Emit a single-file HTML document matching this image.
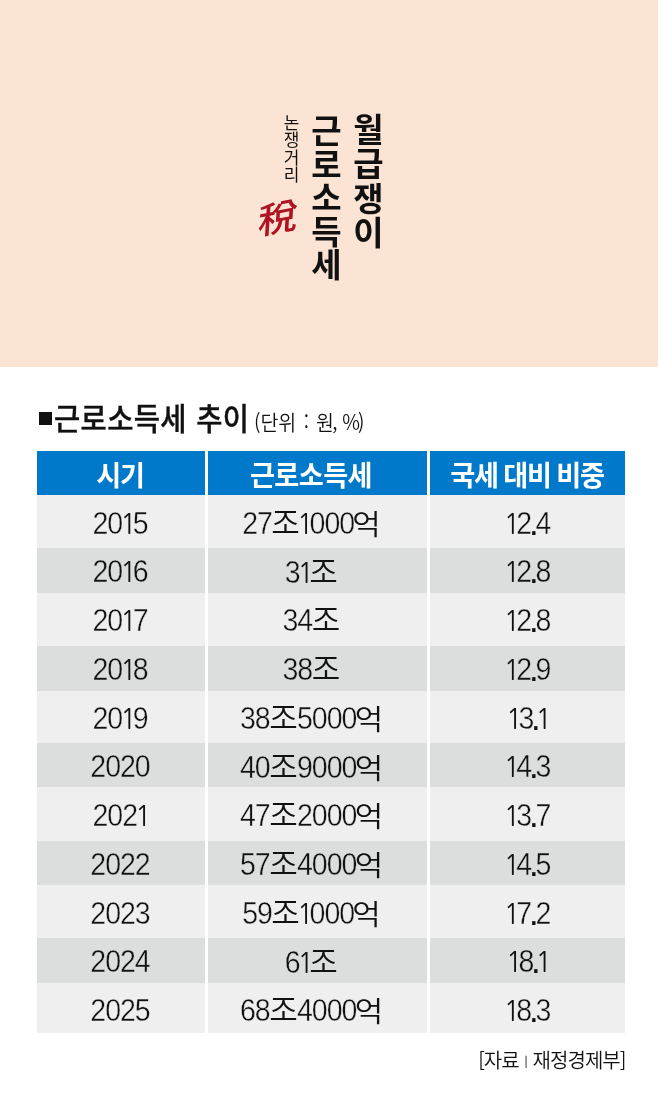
<!DOCTYPE html>
<html lang="ko">
<head>
<meta charset="utf-8">
<title>근로소득세 추이</title>
<style>
html,body{margin:0;padding:0;}
body{width:658px;height:1110px;position:relative;overflow:hidden;background:#fff;
  font-family:"Liberation Sans","Noto Sans CJK KR",sans-serif;color:#111;}
.abs{position:absolute;white-space:nowrap;line-height:1;}
#top{position:absolute;left:0;top:0;width:658px;height:367px;background:#fce4d4;}
.v{position:absolute;writing-mode:vertical-rl;white-space:nowrap;line-height:1;font-family:"Noto Sans CJK KR",sans-serif;}
#t1{left:351.5px;top:113.4px;font-size:33px;font-weight:700;letter-spacing:1.3px;}
#t2{left:309.5px;top:114px;font-size:33px;font-weight:700;letter-spacing:0.6px;}
#t3{left:283px;top:113.5px;font-size:17px;font-weight:400;letter-spacing:0.3px;}
#tax{left:258.5px;top:197px;font-size:38px;font-weight:500;color:#b01322;font-family:"Noto Sans CJK KR","Noto Sans CJK JP",sans-serif;transform:matrix(1.04,-0.2,-0.06,0.95,0,0);transform-origin:50% 50%;}
#sq{position:absolute;left:39px;top:411.5px;width:12.5px;height:13.5px;background:#111;}
#title{left:54px;top:402px;font-size:30.3px;font-weight:500;-webkit-text-stroke:0.4px #111;font-family:"Noto Sans CJK KR",sans-serif;letter-spacing:0.4px;word-spacing:1px;transform:scaleX(0.94);transform-origin:0 0;}
#unit{left:254.3px;top:410.5px;font-size:21px;font-weight:350;font-family:"Noto Sans CJK KR",sans-serif;transform:scaleX(0.925);transform-origin:0 0;}
.cell{position:absolute;}
.hd{background:#0079cb;top:451px;height:44px;}
.c1{left:37.3px;width:167.7px;}
.c2{left:208px;width:218.5px;}
.c3{left:429.5px;width:195.8px;}
.l{background:#efefef;}
.d{background:#dcdddd;}
.tx{position:absolute;white-space:nowrap;line-height:1;transform:translate(-50%,-50%);font-family:"Noto Sans CJK KR",sans-serif;}
.h{color:#fff;font-weight:700;font-size:28.6px;top:473.5px;transform:translate(-50%,-50%) scaleX(0.95);word-spacing:-1px;letter-spacing:-1.3px;}
.n{font-family:"Liberation Sans","Noto Sans CJK KR",sans-serif;font-weight:400;font-size:31px;letter-spacing:-1.1px;color:#111;transform:translate(-50%,-50%) scaleX(0.92);}
.n i{-webkit-text-stroke:0;font-family:"Noto Sans CJK KR",sans-serif;font-style:normal;font-weight:350;font-size:31px;letter-spacing:0;display:inline-block;transform:scaleX(1.087);margin:0 0.6px 0 0.5px;}
.n i.e{transform:translateY(1.5px) scale(1.087,0.9);transform-origin:50% 88%;margin:0 0 0 -0.6px;}
.n u{-webkit-text-stroke:0;text-decoration:none;font-family:"NanumGothic","Liberation Sans",sans-serif;font-size:29.5px;margin:0 -3.2px 0 -2.2px;}
.nl{-webkit-text-stroke:0.4px #efefef;}
.nd{-webkit-text-stroke:0.4px #dcdddd;}
.n b{-webkit-text-stroke:0;font-weight:700;font-size:26px;display:inline-block;margin:0 -0.7px;position:relative;top:1px;}
#src{right:32.5px;top:1050px;font-size:20px;font-weight:350;font-family:"Noto Sans CJK KR",sans-serif;letter-spacing:-0.95px;}
#src .pp{font-weight:500;font-size:11px;vertical-align:3px;margin:0 1.2px;}
</style>
</head>
<body>
<div id="top"></div>
<div class="v" id="t1">월급쟁이</div>
<div class="v" id="t2">근로소득세</div>
<div class="v" id="t3">논쟁거리</div>
<div class="abs" id="tax">稅</div>
<div id="sq"></div>
<div class="abs" id="title">근로소득세 추이</div>
<div class="abs" id="unit">(단위<span style="margin-left:2.2px"> </span>:<span style="margin-left:1.9px"> </span>원<span style="margin-left:-1.9px">,</span><span style="margin-left:-0.8px"> </span>%<span style="margin-left:-2.2px">)</span></div>
<div id="table">
<div class="cell hd c1"></div><div class="cell hd c2"></div><div class="cell hd c3"></div>
<div class="tx h" style="left:119.5px">시기</div><div class="tx h" style="left:311.2px;letter-spacing:-0.6px">근로소득세</div><div class="tx h" style="left:527.3px">국세 대비 비중</div>
<div class="cell l c1" style="top:495px;height:53.4px"></div>
<div class="cell l c2" style="top:495px;height:53.4px"></div>
<div class="cell l c3" style="top:495px;height:53.4px"></div>
<div class="tx n nl" style="left:120.2px;top:522.6px">20<u>1</u>5</div>
<div class="tx n nl" style="left:311.3px;top:521.8px">27<i>조</i><u>1</u>000<i class="e">억</i></div>
<div class="tx n nl" style="left:527.7px;top:522.6px"><u>1</u>2<b>.</b>4</div>
<div class="cell d c1" style="top:548.4px;height:44.3px"></div>
<div class="cell d c2" style="top:548.4px;height:44.3px"></div>
<div class="cell d c3" style="top:548.4px;height:44.3px"></div>
<div class="tx n nd" style="left:120.2px;top:571.3px">20<u>1</u>6</div>
<div class="tx n nd" style="left:311.3px;top:570.5px">3<u>1</u><i>조</i></div>
<div class="tx n nd" style="left:527.7px;top:571.3px"><u>1</u>2<b>.</b>8</div>
<div class="cell l c1" style="top:592.7px;height:52.9px"></div>
<div class="cell l c2" style="top:592.7px;height:52.9px"></div>
<div class="cell l c3" style="top:592.7px;height:52.9px"></div>
<div class="tx n nl" style="left:120.2px;top:620.1px">20<u>1</u>7</div>
<div class="tx n nl" style="left:311.3px;top:619.3px">34<i>조</i></div>
<div class="tx n nl" style="left:527.7px;top:620.1px"><u>1</u>2<b>.</b>8</div>
<div class="cell d c1" style="top:645.6px;height:45.1px"></div>
<div class="cell d c2" style="top:645.6px;height:45.1px"></div>
<div class="cell d c3" style="top:645.6px;height:45.1px"></div>
<div class="tx n nd" style="left:120.2px;top:668.8px">20<u>1</u>8</div>
<div class="tx n nd" style="left:311.3px;top:668.0px">38<i>조</i></div>
<div class="tx n nd" style="left:527.7px;top:668.8px"><u>1</u>2<b>.</b>9</div>
<div class="cell l c1" style="top:690.7px;height:52.5px"></div>
<div class="cell l c2" style="top:690.7px;height:52.5px"></div>
<div class="cell l c3" style="top:690.7px;height:52.5px"></div>
<div class="tx n nl" style="left:120.2px;top:717.6px">20<u>1</u>9</div>
<div class="tx n nl" style="left:311.3px;top:716.8px">38<i>조</i>5000<i class="e">억</i></div>
<div class="tx n nl" style="left:527.7px;top:717.6px"><u>1</u>3<b>.</b><u>1</u></div>
<div class="cell d c1" style="top:743.2px;height:43.9px"></div>
<div class="cell d c2" style="top:743.2px;height:43.9px"></div>
<div class="cell d c3" style="top:743.2px;height:43.9px"></div>
<div class="tx n nd" style="left:120.2px;top:766.3px">2020</div>
<div class="tx n nd" style="left:311.3px;top:765.5px">40<i>조</i>9000<i class="e">억</i></div>
<div class="tx n nd" style="left:527.7px;top:766.3px"><u>1</u>4<b>.</b>3</div>
<div class="cell l c1" style="top:787.1px;height:53.9px"></div>
<div class="cell l c2" style="top:787.1px;height:53.9px"></div>
<div class="cell l c3" style="top:787.1px;height:53.9px"></div>
<div class="tx n nl" style="left:120.2px;top:815.0px">202<u>1</u></div>
<div class="tx n nl" style="left:311.3px;top:814.2px">47<i>조</i>2000<i class="e">억</i></div>
<div class="tx n nl" style="left:527.7px;top:815.0px"><u>1</u>3<b>.</b>7</div>
<div class="cell d c1" style="top:841px;height:43.8px"></div>
<div class="cell d c2" style="top:841px;height:43.8px"></div>
<div class="cell d c3" style="top:841px;height:43.8px"></div>
<div class="tx n nd" style="left:120.2px;top:863.8px">2022</div>
<div class="tx n nd" style="left:311.3px;top:863.0px">57<i>조</i>4000<i class="e">억</i></div>
<div class="tx n nd" style="left:527.7px;top:863.8px"><u>1</u>4<b>.</b>5</div>
<div class="cell l c1" style="top:884.8px;height:53.4px"></div>
<div class="cell l c2" style="top:884.8px;height:53.4px"></div>
<div class="cell l c3" style="top:884.8px;height:53.4px"></div>
<div class="tx n nl" style="left:120.2px;top:912.5px">2023</div>
<div class="tx n nl" style="left:311.3px;top:911.7px">59<i>조</i><u>1</u>000<i class="e">억</i></div>
<div class="tx n nl" style="left:527.7px;top:912.5px"><u>1</u>7<b>.</b>2</div>
<div class="cell d c1" style="top:938.2px;height:44.5px"></div>
<div class="cell d c2" style="top:938.2px;height:44.5px"></div>
<div class="cell d c3" style="top:938.2px;height:44.5px"></div>
<div class="tx n nd" style="left:120.2px;top:961.3px">2024</div>
<div class="tx n nd" style="left:311.3px;top:960.5px">6<u>1</u><i>조</i></div>
<div class="tx n nd" style="left:527.7px;top:961.3px"><u>1</u>8<b>.</b><u>1</u></div>
<div class="cell l c1" style="top:982.7px;height:50.0px"></div>
<div class="cell l c2" style="top:982.7px;height:50.0px"></div>
<div class="cell l c3" style="top:982.7px;height:50.0px"></div>
<div class="tx n nl" style="left:120.2px;top:1010.0px">2025</div>
<div class="tx n nl" style="left:311.3px;top:1009.2px">68<i>조</i>4000<i class="e">억</i></div>
<div class="tx n nl" style="left:527.7px;top:1010.0px"><u>1</u>8<b>.</b>3</div>
</div><!--/table-->
<div class="abs" id="src">[자료 <span class="pp">|</span> 재정경제부]</div>
</body>
</html>
